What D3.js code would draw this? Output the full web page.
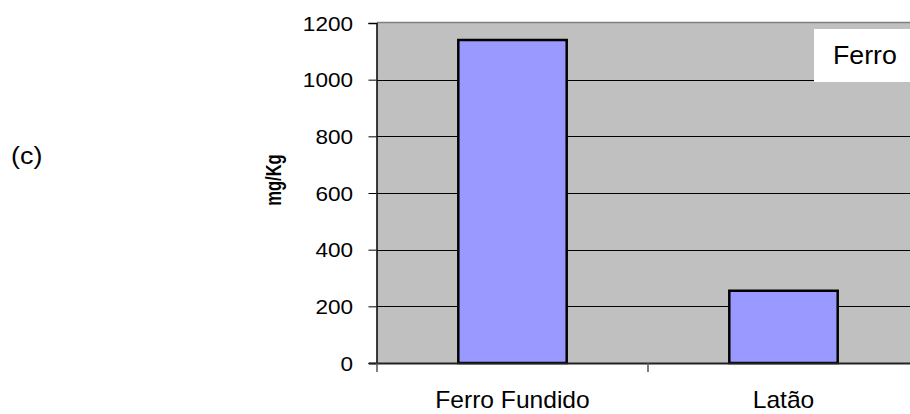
<!DOCTYPE html>
<html>
<head>
<meta charset="utf-8">
<script src="https://cdn.jsdelivr.net/npm/d3@7/dist/d3.min.js"></script>
<style>
  html, body { margin: 0; padding: 0; background: #ffffff; }
  svg { display: block; font-family: "Liberation Sans", Arial, sans-serif; }
</style>
</head>
<body>
<svg id="chart" width="910" height="414"></svg>
<script>
// Iron concentration by pipe material
const categories = ["Ferro Fundido", "Latão"];
const values = [1140, 255];
const yTicks = [0, 200, 400, 600, 800, 1000, 1200];
const seriesName = "Ferro";
const yLabel = "mg/Kg";
const panelLabel = "(c)";

const svg = d3.select("#chart");
const plot = { left: 377, right: 919, top: 23, bottom: 363 };

const x = d3.scaleBand()
  .domain(categories)
  .range([plot.left, plot.right])
  .paddingInner(0.6)
  .paddingOuter(0.3);

const y = d3.scaleLinear()
  .domain([0, 1200])
  .range([plot.bottom, plot.top]);

// plot background
svg.append("rect")
  .attr("x", plot.left).attr("y", plot.top)
  .attr("width", plot.right - plot.left)
  .attr("height", plot.bottom - plot.top)
  .attr("fill", "#c0c0c0");

// top border
svg.append("line")
  .attr("x1", plot.left).attr("x2", plot.right)
  .attr("y1", plot.top - 0.5).attr("y2", plot.top - 0.5)
  .attr("stroke", "#808080").attr("stroke-width", 1.5);

// horizontal gridlines
svg.append("g")
  .selectAll("line")
  .data(yTicks.filter(d => d > 0 && d < 1200))
  .join("line")
  .attr("x1", plot.left).attr("x2", plot.right)
  .attr("y1", d => Math.round(y(d)) + 0.5)
  .attr("y2", d => Math.round(y(d)) + 0.5)
  .attr("stroke", "#000").attr("stroke-width", 1);

// bars
svg.append("g")
  .selectAll("rect")
  .data(categories.map((c, i) => ({ c, v: values[i] })))
  .join("rect")
  .attr("x", d => x(d.c))
  .attr("y", d => y(d.v))
  .attr("width", x.bandwidth())
  .attr("height", d => y(0) - y(d.v))
  .attr("fill", "#9999ff")
  .attr("stroke", "#000")
  .attr("stroke-width", 2.5);

// y axis line and ticks
const yAxis = d3.axisLeft(y)
  .tickValues(yTicks)
  .tickSize(8)
  .tickFormat("");
const gy = svg.append("g")
  .attr("transform", `translate(${plot.left - 0.5},0)`)
  .call(yAxis);
gy.select(".domain").attr("stroke", "#000").attr("stroke-width", 1.5);
gy.selectAll(".tick line").attr("stroke", "#000");

// y tick labels
svg.append("g")
  .selectAll("text")
  .data(yTicks)
  .join("text")
  .attr("transform", d => `translate(353,${y(d) + 0.5}) scale(1.1,1)`)
  .attr("text-anchor", "end")
  .attr("dy", "0.35em")
  .attr("font-size", 20.5)
  .attr("fill", "#000")
  .text(d => d3.format("d")(d));

// x axis baseline and category boundary ticks
svg.append("line")
  .attr("x1", plot.left - 8).attr("x2", plot.right)
  .attr("y1", plot.bottom + 0.5).attr("y2", plot.bottom + 0.5)
  .attr("stroke", "#222").attr("stroke-width", 2);

const boundaries = categories.map(c => x(c) - x.step() * x.paddingOuter());
svg.append("g")
  .selectAll("line")
  .data(boundaries)
  .join("line")
  .attr("x1", d => d).attr("x2", d => d)
  .attr("y1", plot.bottom).attr("y2", plot.bottom + 9)
  .attr("stroke", "#555").attr("stroke-width", 1.5);

// category labels
svg.append("g")
  .selectAll("text")
  .data(categories)
  .join("text")
  .attr("transform", d => `translate(${x(d) + x.bandwidth() / 2},408) scale(1.07,1)`)
  .attr("text-anchor", "middle")
  .attr("font-size", 23)
  .attr("fill", "#000")
  .text(d => d);

// y axis title
svg.append("text")
  .attr("transform", "translate(281,180) rotate(-90) scale(1,1.35)")
  .attr("text-anchor", "middle")
  .attr("font-size", 16.5)
  .attr("font-weight", "bold")
  .attr("fill", "#000")
  .text(yLabel);

// panel label
svg.append("text")
  .attr("transform", "translate(11,164) scale(1.12,1)")
  .attr("font-size", 24)
  .attr("fill", "#000")
  .text(panelLabel);

// legend
const legend = svg.append("g").attr("transform", "translate(814,29)");
legend.append("rect")
  .attr("width", 110).attr("height", 53)
  .attr("fill", "#fff");
legend.append("text")
  .attr("transform", "translate(19,35) scale(1.07,1)")
  .attr("font-size", 25)
  .attr("fill", "#000")
  .text(seriesName);
</script>
</body>
</html>
